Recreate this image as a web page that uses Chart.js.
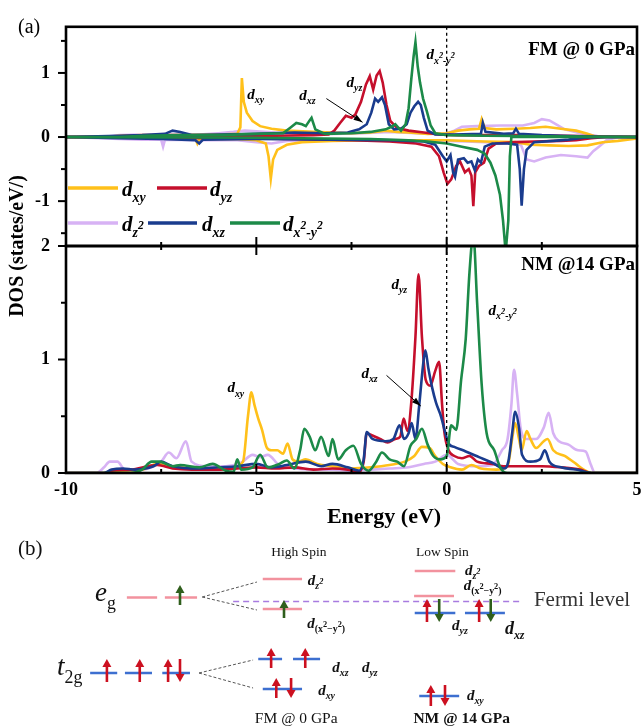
<!DOCTYPE html>
<html>
<head>
<meta charset="utf-8">
<script src="https://cdn.jsdelivr.net/npm/chart.js@4.4.1/dist/chart.umd.min.js"></script>
<style>
body { margin: 0; background: #fff; }
#wrap { position: relative; width: 644px; height: 726px; overflow: hidden; }
canvas { position: absolute; left: 0; }
</style>
</head>
<body>
<div id="wrap">
  <canvas id="fmChart" width="644" height="530" style="top:0"></canvas>
  <canvas id="nmChart" width="644" height="530" style="top:0"></canvas>
  <canvas id="levelChart" width="644" height="226" style="top:500px"></canvas>
</div>
<script>
// ---- axis ticks ----
const energyTicks = [-10, -5, 0, 5];
const energyMinorTicks = [-7.5, -2.5, 2.5];
const fmDosTicks = [-1, 0, 1];
const fmDosMinor = [-1.5, -0.5, 0.5, 1.5];
const nmDosTicks = [0, 1, 2];
const nmDosMinor = [0.5, 1.5];

// ---- FM @ 0 GPa, [energy eV, DOS] (spin up > 0, spin down < 0) ----
const fmXyUp = [[-10,0],[-9,0],[-8.6,0.02],[-8,0.03],[-7,0.03],[-6,0.04],[-5.5,0.05],[-5.42,0.15],[-5.38,0.92],[-5.33,0.55],[-5.25,0.38],[-5.1,0.25],[-4.9,0.17],[-4.6,0.13],[-4.2,0.1],[-3.5,0.08],[-3,0.07],[-2.5,0.06],[-2,0.07],[-1.6,0.1],[-1.3,0.08],[-1,0.07],[-0.5,0.05],[0,0.06],[0.3,0.1],[0.6,0.12],[0.85,0.13],[0.92,0.28],[1.0,0.14],[1.3,0.12],[1.8,0.13],[2.2,0.14],[2.6,0.16],[3.0,0.13],[3.4,0.1],[3.7,0.05],[3.9,0.01],[4.2,0],[5,0]];
const fmXyDn = [[-10,0],[-8.6,-0.01],[-7,-0.02],[-6.6,-0.03],[-6.55,-0.1],[-6.5,-0.03],[-5.5,-0.03],[-5,-0.05],[-4.75,-0.1],[-4.68,-0.3],[-4.62,-0.65],[-4.56,-0.35],[-4.45,-0.2],[-4.2,-0.12],[-3.8,-0.08],[-3,-0.06],[-2,-0.05],[-1,-0.05],[0,-0.05],[1,-0.07],[1.8,-0.08],[2.2,-0.12],[2.7,-0.13],[3.2,-0.14],[3.7,-0.13],[4.1,-0.08],[4.5,-0.06],[4.9,-0.03],[5,-0.02]];
const fmYzUp = [[-10,0],[-8.6,0.01],[-7.5,0.03],[-6.5,0.02],[-5.5,0.02],[-4.5,0.02],[-3.5,0.03],[-3.1,0.04],[-2.95,0.1],[-2.8,0.22],[-2.65,0.33],[-2.5,0.3],[-2.4,0.35],[-2.25,0.55],[-2.12,0.82],[-2.02,0.95],[-1.93,0.74],[-1.84,0.96],[-1.76,1.03],[-1.68,0.85],[-1.58,0.5],[-1.48,0.25],[-1.3,0.14],[-1.0,0.1],[-0.6,0.07],[-0.2,0.04],[0.3,0.03],[1,0.03],[2,0.03],[3,0.02],[4,0.01],[5,0]];
const fmYzDn = [[-10,0],[-8,-0.01],[-6,-0.02],[-4,-0.03],[-2.5,-0.05],[-1.5,-0.07],[-0.8,-0.1],[-0.4,-0.15],[-0.2,-0.3],[-0.08,-0.55],[0.02,-0.73],[0.12,-0.66],[0.25,-0.45],[0.35,-0.38],[0.48,-0.55],[0.58,-0.5],[0.65,-0.6],[0.7,-1.08],[0.75,-0.55],[0.85,-0.45],[0.98,-0.4],[1.1,-0.18],[1.3,-0.1],[1.8,-0.08],[2.3,-0.07],[3,-0.06],[3.4,-0.05],[3.8,-0.02],[4.2,0],[5,0]];
const fmXzUp = [[-10,0],[-8.6,0.02],[-8,0.03],[-7.4,0.05],[-7.2,0.1],[-7.0,0.08],[-6.7,0.03],[-6,0.04],[-5,0.05],[-4,0.07],[-3.2,0.06],[-2.6,0.07],[-2.3,0.12],[-2.1,0.2],[-1.98,0.38],[-1.88,0.6],[-1.8,0.55],[-1.7,0.62],[-1.62,0.5],[-1.52,0.2],[-1.38,0.12],[-1.2,0.13],[-1.05,0.2],[-0.95,0.38],[-0.85,0.48],[-0.75,0.55],[-0.68,0.5],[-0.6,0.3],[-0.5,0.1],[-0.3,0.04],[0.2,0.04],[0.9,0.05],[0.95,0.22],[1.02,0.08],[1.5,0.05],[1.75,0.06],[1.82,0.13],[1.9,0.05],[2.5,0.03],[3,0.02],[3.5,0.01],[4,0],[5,0]];
const fmXzDn = [[-10,0],[-8.6,-0.02],[-7.5,-0.03],[-6.6,-0.05],[-6.5,-0.1],[-6.4,-0.04],[-5,-0.03],[-3,-0.04],[-1.5,-0.05],[-0.6,-0.07],[-0.3,-0.12],[-0.1,-0.3],[0.0,-0.38],[0.1,-0.28],[0.17,-0.55],[0.22,-0.62],[0.3,-0.35],[0.45,-0.33],[0.55,-0.4],[0.65,-0.38],[0.74,-0.52],[0.82,-0.35],[0.9,-0.4],[1.0,-0.15],[1.2,-0.1],[1.6,-0.1],[1.85,-0.12],[1.92,-0.5],[1.97,-1.07],[2.03,-0.5],[2.1,-0.2],[2.3,-0.08],[2.8,-0.06],[3.2,-0.04],[3.6,-0.01],[4,0],[5,0]];
const fmZ2Up = [[-10,0],[-9,0],[-8.6,0.03],[-8,0.04],[-7.5,0.03],[-7,0.05],[-6.5,0.04],[-6,0.06],[-5.6,0.08],[-5.3,0.1],[-5,0.09],[-4.5,0.07],[-4,0.06],[-3,0.05],[-2.2,0.06],[-1.5,0.08],[-0.8,0.06],[-0.3,0.05],[0,0.06],[0.2,0.1],[0.4,0.16],[0.8,0.17],[1.4,0.18],[2.0,0.18],[2.3,0.22],[2.5,0.28],[2.7,0.26],[2.9,0.19],[3.1,0.12],[3.5,0.06],[3.8,0.03],[4.1,0],[5,0]];
const fmZ2Dn = [[-10,0],[-8.6,-0.03],[-8,-0.04],[-7.5,-0.04],[-7.45,-0.15],[-7.4,-0.04],[-6.5,-0.05],[-5.5,-0.05],[-5,-0.08],[-4.6,-0.1],[-4.2,-0.06],[-3,-0.04],[-2,-0.04],[-1,-0.05],[0,-0.06],[0.5,-0.07],[1,-0.08],[1.6,-0.1],[1.95,-0.12],[2.1,-0.35],[2.3,-0.38],[2.6,-0.32],[3.0,-0.28],[3.4,-0.3],[3.7,-0.32],[3.85,-0.22],[4.0,-0.15],[4.2,-0.05],[4.5,0],[5,0]];
const fmX2Up = [[-10,0],[-8.6,0],[-8,0.02],[-7,0.03],[-6,0.03],[-5,0.05],[-4.3,0.06],[-4.1,0.15],[-3.95,0.22],[-3.8,0.2],[-3.7,0.17],[-3.6,0.26],[-3.55,0.3],[-3.45,0.12],[-3.2,0.05],[-2.5,0.06],[-2,0.08],[-1.6,0.12],[-1.45,0.16],[-1.35,0.2],[-1.2,0.1],[-1.08,0.2],[-1.0,0.45],[-0.93,0.9],[-0.87,1.25],[-0.82,1.48],[-0.76,1.1],[-0.7,0.85],[-0.62,0.6],[-0.52,0.4],[-0.42,0.18],[-0.3,0.06],[0,0.03],[1,0.02],[5,0]];
const fmX2Dn = [[-10,0],[-5,-0.01],[-2,-0.03],[-1,-0.05],[-0.5,-0.07],[0,-0.1],[0.4,-0.15],[0.8,-0.2],[1.0,-0.26],[1.15,-0.4],[1.28,-0.6],[1.4,-0.9],[1.48,-1.3],[1.55,-1.8],[1.62,-1.3],[1.66,-0.3],[1.7,0],[5,0]];

// ---- NM @ 14 GPa, [energy eV, DOS] ----
const nmXy = [[-10,0],[-9,0],[-8.7,0.02],[-8,0.03],[-7.6,0.08],[-7.3,0.06],[-6.5,0.04],[-6,0.03],[-5.6,0.05],[-5.35,0.1],[-5.22,0.5],[-5.13,0.71],[-5.05,0.6],[-4.95,0.48],[-4.85,0.38],[-4.72,0.22],[-4.6,0.2],[-4.45,0.2],[-4.3,0.17],[-4.18,0.26],[-4.05,0.12],[-3.9,0.1],[-3.7,0.12],[-3.4,0.08],[-3,0.06],[-2.5,0.04],[-2,0.05],[-1.5,0.07],[-1.1,0.1],[-0.85,0.15],[-0.65,0.23],[-0.45,0.22],[-0.3,0.15],[-0.1,0.08],[0.1,0.05],[0.4,0.03],[0.65,0.07],[0.9,0.04],[1.3,0.03],[1.6,0.06],[1.72,0.3],[1.8,0.44],[1.9,0.3],[1.97,0.2],[2.1,0.37],[2.2,0.3],[2.35,0.22],[2.55,0.28],[2.65,0.3],[2.8,0.2],[3.1,0.15],[3.4,0.08],[3.6,0.03],[3.8,0],[5,0]];
const nmYz = [[-10,0],[-9,0],[-8.8,0.02],[-8.3,0.03],[-7.6,0.07],[-7.2,0.04],[-6.7,0.03],[-6,0.03],[-5.5,0.04],[-5,0.05],[-4.5,0.04],[-4,0.05],[-3.5,0.03],[-3,0.04],[-2.6,0.03],[-2.3,0.01],[-2.18,0.1],[-2.1,0.35],[-1.95,0.33],[-1.75,0.3],[-1.55,0.27],[-1.35,0.3],[-1.22,0.32],[-1.13,0.48],[-1.03,0.37],[-0.93,0.62],[-0.82,1.2],[-0.74,1.75],[-0.65,1.2],[-0.55,0.82],[-0.43,0.77],[-0.3,0.9],[-0.2,0.98],[-0.12,0.6],[-0.06,0.36],[0.05,0.2],[0.2,0.15],[0.4,0.13],[0.6,0.15],[0.8,0.1],[1.2,0.08],[1.5,0.06],[2,0.06],[2.5,0.06],[3,0.05],[3.5,0.03],[3.8,0],[5,0]];
const nmXz = [[-10,0],[-9,0],[-8.8,0.03],[-8.5,0.04],[-8.2,0.03],[-7.7,0.06],[-7.5,0.1],[-7.2,0.06],[-6.5,0.04],[-6,0.05],[-5.5,0.06],[-5,0.08],[-4.6,0.05],[-4.2,0.07],[-3.7,0.1],[-3.3,0.06],[-3,0.08],[-2.6,0.05],[-2.3,0.02],[-2.18,0.12],[-2.1,0.36],[-1.95,0.3],[-1.6,0.28],[-1.4,0.3],[-1.24,0.42],[-1.12,0.3],[-1.0,0.35],[-0.92,0.44],[-0.82,0.3],[-0.72,0.6],[-0.62,0.95],[-0.56,1.08],[-0.48,0.92],[-0.38,0.75],[-0.28,0.62],[-0.15,0.5],[-0.04,0.36],[0.05,0.26],[0.2,0.23],[0.5,0.19],[0.85,0.14],[1.2,0.09],[1.5,0.04],[1.62,0.1],[1.72,0.35],[1.8,0.54],[1.9,0.4],[1.98,0.16],[2.2,0.1],[2.45,0.12],[2.58,0.2],[2.7,0.1],[3,0.05],[3.4,0.03],[3.8,0],[5,0]];
const nmZ2 = [[-10,0],[-9.2,0],[-9.0,0.05],[-8.85,0.1],[-8.65,0.1],[-8.45,0.03],[-8,0.03],[-7.75,0.05],[-7.5,0.1],[-7.3,0.18],[-7.1,0.13],[-6.85,0.28],[-6.7,0.1],[-6.3,0.06],[-5.8,0.06],[-5.4,0.09],[-5.1,0.16],[-4.9,0.14],[-4.7,0.16],[-4.4,0.07],[-4,0.04],[-3.5,0.03],[-3,0.03],[-2.5,0.02],[-2,0.03],[-1.5,0.04],[-1,0.05],[-0.6,0.08],[-0.3,0.1],[0,0.16],[0.3,0.08],[0.8,0.06],[1.2,0.07],[1.45,0.2],[1.6,0.3],[1.7,0.6],[1.77,0.91],[1.85,0.7],[1.95,0.38],[2.1,0.3],[2.35,0.3],[2.55,0.4],[2.68,0.53],[2.8,0.35],[2.95,0.28],[3.2,0.25],[3.45,0.2],[3.65,0.19],[3.78,0.08],[3.9,0],[5,0]];
const nmX2 = [[-10,0],[-8.3,0],[-8.0,0.03],[-7.75,0.1],[-7.55,0.1],[-7.2,0.06],[-7,0.07],[-6.5,0.05],[-6.15,0.08],[-5.8,0.02],[-5.6,0.01],[-5.5,0.12],[-5.4,0.03],[-5.1,0.05],[-4.9,0.16],[-4.7,0.05],[-4.4,0.08],[-4.2,0.11],[-4.0,0.04],[-3.85,0.2],[-3.74,0.39],[-3.6,0.32],[-3.45,0.2],[-3.3,0.32],[-3.1,0.15],[-3.0,0.3],[-2.85,0.12],[-2.65,0.2],[-2.45,0.24],[-2.25,0.08],[-2.05,0.02],[-1.85,0.1],[-1.7,0.18],[-1.5,0.12],[-1.3,0.1],[-1.12,0.06],[-0.95,0.24],[-0.8,0.3],[-0.65,0.39],[-0.5,0.25],[-0.35,0.15],[-0.15,0.12],[0,0.15],[0.12,0.42],[0.25,0.38],[0.38,0.82],[0.5,1.18],[0.6,1.77],[0.7,2.1],[0.8,1.5],[0.92,0.78],[1.05,0.35],[1.25,0.2],[1.42,0.04],[1.6,0],[5,0]];

// ---- crystal-field diagram (b): x in diagram units 0..100, energy with Fermi level = 0 ----
const egLevels = [[19.7, 24.4, 0.4], [25.6, 30.6, 0.4]];
const hsEgLevels = [[40.8, 46.9, 2.25], [40.8, 46.9, -0.75]];
const lsEgLevels = [[64.4, 70.7, 3.05], [64.3, 70.5, 0.55]];
const t2gLevels = [[14.0, 18.2, -7.15], [19.4, 23.6, -7.15], [25.2, 29.5, -7.15]];
const hsT2gLevels = [[40.1, 43.8, -5.75], [45.5, 49.7, -5.75], [40.8, 46.9, -8.75]];
const lsT2gLevels = [[64.4, 70.7, -1.15], [72.2, 78.4, -1.15], [65.1, 71.3, -9.45]];
const splitLines = [[31.4, 0.45, 39.9, 1.95], [31.4, 0.45, 39.9, -0.85], [30.9, -7.15, 39.3, -5.85], [30.9, -7.15, 39.3, -8.65]];
const fermiLevel = [36.2, 81.1, 0];
// [spin colour, x, from energy, to energy]
const spins = [
  ['g', 27.95, -0.35, 1.65], ['g', 44.1, -1.65, 0.15],
  ['r', 16.6, -8.05, -5.75], ['r', 21.7, -8.05, -5.75], ['r', 26.1, -8.05, -5.75], ['r', 27.95, -5.75, -8.05],
  ['r', 42.1, -6.65, -4.65], ['r', 47.4, -6.65, -4.65],
  ['r', 42.9, -9.65, -7.65], ['r', 45.2, -7.65, -9.65],
  ['r', 66.3, -2.05, 0.25], ['g', 68.2, 0.25, -2.05], ['r', 74.4, -2.05, 0.25], ['g', 76.2, 0.25, -2.05],
  ['r', 66.9, -10.45, -8.35], ['r', 69.1, -8.35, -10.45]
];

const SERIF = '"Liberation Serif", "Times New Roman", serif';
const colors = { xy: '#FFC01A', yz: '#C50F2C', z2: '#D7B2F4', xz: '#1A3C8E', x2: '#1C8A48' };

const dxy = [['d', 'n'], ['xy', 'b']];
const dyz = [['d', 'n'], ['yz', 'b']];
const dxz = [['d', 'n'], ['xz', 'b']];
const dz2 = [['d', 'n'], ['z', 'b'], ['2', 'q']];
const dx2 = [['d', 'n'], ['x', 'b'], ['2', 'q'], ['-y', 'b'], ['2', 'q']];
const dx2p = [['d', 'n'], ['(x', 'b', 'bold'], ['2', 'q', 'bold'], ['\u2212y', 'b', 'bold'], ['2', 'q', 'bold'], [')', 'b', 'bold']];

// text with sub/superscripts; y is the baseline
function rich(ctx, x, y, parts, size, align) {
  const spec = { n: [1, 0], b: [0.66, 0.28], p: [0.6, -0.4], q: [0.55, -0.08] };
  const fontOf = p => (p[2] || 'italic bold') + ' ' + (size * spec[p[1]][0]).toFixed(1) + 'px ' + SERIF;
  let w = 0;
  parts.forEach(p => { ctx.font = fontOf(p); w += ctx.measureText(p[0]).width; });
  let cx = align === 'center' ? x - w / 2 : (align === 'right' ? x - w : x);
  ctx.textAlign = 'left';
  ctx.textBaseline = 'alphabetic';
  parts.forEach(p => {
    ctx.font = fontOf(p);
    ctx.fillText(p[0], cx, y + spec[p[1]][1] * size);
    cx += ctx.measureText(p[0]).width;
  });
}

function pointer(ctx, x1, y1, x2, y2) {
  const ang = Math.atan2(y2 - y1, x2 - x1);
  ctx.strokeStyle = '#000';
  ctx.fillStyle = '#000';
  ctx.lineWidth = 1;
  ctx.beginPath(); ctx.moveTo(x1, y1); ctx.lineTo(x2, y2); ctx.stroke();
  ctx.beginPath();
  ctx.moveTo(x2, y2);
  ctx.lineTo(x2 - 9 * Math.cos(ang) + 3 * Math.sin(ang), y2 - 9 * Math.sin(ang) - 3 * Math.cos(ang));
  ctx.lineTo(x2 - 9 * Math.cos(ang) - 3 * Math.sin(ang), y2 - 9 * Math.sin(ang) + 3 * Math.cos(ang));
  ctx.closePath(); ctx.fill();
}

function line(label, pts, color, order, smooth) {
  return {
    label: label,
    data: pts.map(p => ({ x: p[0], y: p[1] })),
    borderColor: color,
    borderWidth: 2.6,
    pointRadius: 0,
    fill: false,
    order: order,
    tension: smooth ? 0.3 : 0,
    cubicInterpolationMode: smooth ? 'monotone' : 'default'
  };
}

const tickFont = { family: SERIF, size: 18, weight: 'bold' };

function panelPlugin(cfg) {
  return {
    id: cfg.id,
    afterDatasetsDraw(chart) {
      const ctx = chart.ctx, a = chart.chartArea, x = chart.scales.x, y = chart.scales.y;
      ctx.save();
      const x0 = x.getPixelForValue(0);
      ctx.strokeStyle = '#000';
      ctx.lineWidth = 1.3;
      ctx.setLineDash([3, 3]);
      ctx.beginPath(); ctx.moveTo(x0, a.top); ctx.lineTo(x0, a.bottom); ctx.stroke();
      ctx.setLineDash([]);
      ctx.lineWidth = 2.6;
      ctx.strokeRect(a.left, a.top, a.right - a.left, a.bottom - a.top);
      ctx.lineWidth = 2;
      const seg = (x1, y1, x2, y2) => { ctx.beginPath(); ctx.moveTo(x1, y1); ctx.lineTo(x2, y2); ctx.stroke(); };
      cfg.yMajor.forEach(v => { const py = y.getPixelForValue(v); seg(a.left - 8, py, a.left, py); });
      cfg.yMinor.forEach(v => { const py = y.getPixelForValue(v); seg(a.left - 5, py, a.left, py); });
      cfg.edges.forEach(edge => {
        const py = edge === 'top' ? a.top : a.bottom;
        const dir = edge === 'top' ? 1 : -1;
        energyTicks.forEach(v => { const px = x.getPixelForValue(v); seg(px, py, px, py + dir * 9); });
        energyMinorTicks.forEach(v => { const px = x.getPixelForValue(v); seg(px, py, px, py + dir * 4); });
      });
      ctx.fillStyle = '#000';
      cfg.labels.forEach(l => rich(ctx, x.getPixelForValue(l.e), y.getPixelForValue(l.v), l.parts, l.size, 'left'));
      cfg.arrows.forEach(r => pointer(ctx, x.getPixelForValue(r[0]), y.getPixelForValue(r[1]), x.getPixelForValue(r[2]), y.getPixelForValue(r[3])));
      ctx.font = 'bold 19px ' + SERIF;
      ctx.textAlign = 'right';
      ctx.textBaseline = 'alphabetic';
      ctx.fillText(cfg.title, a.right - 2, y.getPixelForValue(cfg.titleV));
      if (cfg.extra) cfg.extra(chart, ctx);
      ctx.restore();
    }
  };
}

function legendDraw(chart, ctx) {
  const a = chart.chartArea;
  const rows = [
    [colors.xy, 2, 52, 56, 188, dxy], [colors.yz, 91, 141, 144, 188, dyz],
    [colors.z2, 2, 52, 56, 223, dz2], [colors.xz, 82, 131, 136, 223, dxz], [colors.x2, 164, 214, 217, 223, dx2]
  ];
  rows.forEach(r => {
    ctx.strokeStyle = r[0];
    ctx.lineWidth = 3.5;
    ctx.beginPath(); ctx.moveTo(a.left + r[1], r[4]); ctx.lineTo(a.left + r[2], r[4]); ctx.stroke();
    ctx.fillStyle = '#000';
    rich(ctx, a.left + r[3], r[4] + 8, r[5], 21, 'left');
  });
  ctx.font = '20px ' + SERIF;
  ctx.textAlign = 'left';
  ctx.fillText('(a)', 18, 33);
}

function nmExtra(chart, ctx) {
  ctx.fillStyle = '#000';
  ctx.font = 'bold 22px ' + SERIF;
  ctx.textAlign = 'center';
  ctx.textBaseline = 'middle';
  ctx.fillText('Energy (eV)', 384, 517);
  ctx.save();
  ctx.translate(18, 246);
  ctx.rotate(-Math.PI / 2);
  ctx.font = 'bold 20px ' + SERIF;
  ctx.fillText('DOS (states/eV/)', 0, 0);
  ctx.restore();
}

new Chart(document.getElementById('fmChart'), {
  type: 'line',
  data: {
    datasets: [
      line('dx2-y2 up', fmX2Up, colors.x2, 0), line('dx2-y2 down', fmX2Dn, colors.x2, 0),
      line('dxz up', fmXzUp, colors.xz, 1), line('dxz down', fmXzDn, colors.xz, 1),
      line('dyz up', fmYzUp, colors.yz, 2), line('dyz down', fmYzDn, colors.yz, 2),
      line('dxy up', fmXyUp, colors.xy, 3), line('dxy down', fmXyDn, colors.xy, 3),
      line('dz2 up', fmZ2Up, colors.z2, 4), line('dz2 down', fmZ2Dn, colors.z2, 4)
    ]
  },
  options: {
    responsive: false,
    animation: false,
    layout: { padding: { left: 0, right: 7, top: 16, bottom: 284 } },
    plugins: { legend: { display: false }, tooltip: { enabled: false } },
    scales: {
      x: { type: 'linear', min: -10, max: 5, display: false },
      y: {
        min: -1.7, max: 1.72,
        afterFit: s => { s.width = 66; },
        afterBuildTicks: s => { s.ticks = fmDosTicks.map(v => ({ value: v })); },
        ticks: { font: tickFont, color: '#000', padding: 16 },
        grid: { display: false, drawTicks: false },
        border: { display: false }
      }
    }
  },
  plugins: [panelPlugin({
    id: 'fmDecor', yMajor: fmDosTicks, yMinor: fmDosMinor, edges: ['bottom'],
    labels: [
      { e: -5.24, v: 0.6, parts: dxy, size: 15 },
      { e: -3.87, v: 0.58, parts: dxz, size: 15 },
      { e: -2.63, v: 0.78, parts: dyz, size: 15 },
      { e: -0.53, v: 1.21, parts: dx2, size: 15 }
    ],
    arrows: [[-3.16, 0.6, -2.21, 0.23]],
    title: 'FM @ 0 GPa', titleV: 1.28,
    extra: legendDraw
  })]
});

new Chart(document.getElementById('nmChart'), {
  type: 'line',
  data: {
    datasets: [
      line('dx2-y2', nmX2, colors.x2, 0, true),
      line('dxz', nmXz, colors.xz, 1, true),
      line('dyz', nmYz, colors.yz, 2, true),
      line('dxy', nmXy, colors.xy, 3, true),
      line('dz2', nmZ2, colors.z2, 4, true)
    ]
  },
  options: {
    responsive: false,
    animation: false,
    layout: { padding: { left: 0, right: 7, top: 246, bottom: 0 } },
    plugins: { legend: { display: false }, tooltip: { enabled: false } },
    scales: {
      x: {
        type: 'linear', min: -10, max: 5,
        afterFit: s => { s.height = 57; s.paddingLeft = 0; s.paddingRight = 0; },
        afterBuildTicks: s => { s.ticks = energyTicks.map(v => ({ value: v })); },
        ticks: { font: tickFont, color: '#000', padding: 7, maxRotation: 0 },
        grid: { display: false, drawTicks: false },
        border: { display: false }
      },
      y: {
        min: 0, max: 2,
        afterFit: s => { s.width = 66; s.paddingTop = 0; s.paddingBottom = 0; },
        afterBuildTicks: s => { s.ticks = nmDosTicks.map(v => ({ value: v })); },
        ticks: { font: tickFont, color: '#000', padding: 16 },
        grid: { display: false, drawTicks: false },
        border: { display: false }
      }
    }
  },
  plugins: [panelPlugin({
    id: 'nmDecor', yMajor: nmDosTicks, yMinor: nmDosMinor, edges: ['top', 'bottom'],
    labels: [
      { e: -5.76, v: 0.71, parts: dxy, size: 15 },
      { e: -1.45, v: 1.62, parts: dyz, size: 15 },
      { e: -2.24, v: 0.84, parts: dxz, size: 15 },
      { e: 1.1, v: 1.39, parts: dx2, size: 15 }
    ],
    arrows: [[-1.58, 0.86, -0.68, 0.59]],
    title: 'NM @14 GPa', titleV: 1.79,
    extra: nmExtra
  })]
});

// ---- diagram (b) ----
function levelPoints(levels) {
  const pts = [];
  levels.forEach(l => { pts.push({ x: l[0], y: l[2] }, { x: l[1], y: l[2] }, { x: l[1], y: null }); });
  return pts;
}
function splitPoints(lines) {
  const pts = [];
  lines.forEach(l => { pts.push({ x: l[0], y: l[1] }, { x: l[2], y: l[3] }, { x: l[2], y: null }); });
  return pts;
}

const diagramTexts = [
  { x: 2.8, e: 4.65, parts: [['(b)', 'n', 'normal']], size: 21, align: 'left' },
  { x: 46.4, e: 4.55, parts: [['High Spin', 'n', 'normal']], size: 13.5, align: 'center' },
  { x: 68.7, e: 4.55, parts: [['Low Spin', 'n', 'normal']], size: 13.5, align: 'center' },
  { x: 14.75, e: 0.05, parts: [['e', 'n', 'italic'], ['g', 'b', 'normal']], size: 27, align: 'left' },
  { x: 8.85, e: -7.35, parts: [['t', 'n', 'italic'], ['2g', 'b', 'normal']], size: 27, align: 'left' },
  { x: 47.8, e: 1.65, parts: dz2, size: 15, align: 'left' },
  { x: 47.7, e: -2.65, parts: dx2p, size: 15, align: 'left' },
  { x: 51.6, e: -7.05, parts: dxz, size: 15, align: 'left' },
  { x: 56.2, e: -7.05, parts: dyz, size: 15, align: 'left' },
  { x: 49.4, e: -9.35, parts: dxy, size: 15, align: 'left' },
  { x: 46.0, e: -12.15, parts: [['FM @ 0 GPa', 'n', 'normal']], size: 15.5, align: 'center' },
  { x: 72.2, e: 2.65, parts: dz2, size: 15, align: 'left' },
  { x: 72.0, e: 1.15, parts: dx2p, size: 15, align: 'left' },
  { x: 70.2, e: -2.85, parts: dyz, size: 15, align: 'left' },
  { x: 78.4, e: -3.25, parts: dxz, size: 18, align: 'left' },
  { x: 72.5, e: -9.85, parts: dxy, size: 15, align: 'left' },
  { x: 71.7, e: -12.15, parts: [['NM @ 14 GPa', 'n', 'bold']], size: 15.5, align: 'center' },
  { x: 82.9, e: -0.45, parts: [['Fermi level', 'n', 'normal']], size: 21, align: 'left', color: '#333' }
];

const diagramPlugin = {
  id: 'diagramDecor',
  afterDatasetsDraw(chart) {
    const ctx = chart.ctx, x = chart.scales.x, y = chart.scales.y;
    ctx.save();
    spins.forEach(s => {
      const px = x.getPixelForValue(s[1]);
      const y1 = y.getPixelForValue(s[2]), y2 = y.getPixelForValue(s[3]);
      const dir = y2 < y1 ? 1 : -1;
      const col = s[0] === 'r' ? '#CC1020' : '#2F5E1C';
      ctx.strokeStyle = col;
      ctx.fillStyle = col;
      ctx.lineWidth = 2.6;
      ctx.beginPath(); ctx.moveTo(px, y1); ctx.lineTo(px, y2 + dir * 6); ctx.stroke();
      ctx.beginPath();
      ctx.moveTo(px, y2); ctx.lineTo(px - 4.5, y2 + dir * 8); ctx.lineTo(px + 4.5, y2 + dir * 8);
      ctx.closePath(); ctx.fill();
    });
    diagramTexts.forEach(t => {
      ctx.fillStyle = t.color || '#111';
      rich(ctx, x.getPixelForValue(t.x), y.getPixelForValue(t.e), t.parts, t.size, t.align);
    });
    ctx.restore();
  }
};

new Chart(document.getElementById('levelChart'), {
  type: 'line',
  data: {
    datasets: [
      { data: splitPoints(splitLines), borderColor: '#555', borderWidth: 1, borderDash: [3, 2], pointRadius: 0, clip: false },
      { data: levelPoints([[fermiLevel[0], fermiLevel[1], fermiLevel[2]]]), borderColor: '#A87BE0', borderWidth: 1.3, borderDash: [6, 4], pointRadius: 0, clip: false },
      { data: levelPoints(egLevels.concat(hsEgLevels, lsEgLevels)), borderColor: '#F2929E', borderWidth: 2.6, pointRadius: 0, clip: false },
      { data: levelPoints(t2gLevels.concat(hsT2gLevels, lsT2gLevels)), borderColor: '#3D6FD0', borderWidth: 2.6, pointRadius: 0, clip: false }
    ]
  },
  options: {
    responsive: false,
    animation: false,
    layout: { padding: 0 },
    plugins: { legend: { display: false }, tooltip: { enabled: false } },
    scales: {
      x: { type: 'linear', min: 0, max: 100, display: false },
      y: { min: -12.45, max: 10.15, display: false }
    }
  },
  plugins: [diagramPlugin]
});
</script>
</body>
</html>
